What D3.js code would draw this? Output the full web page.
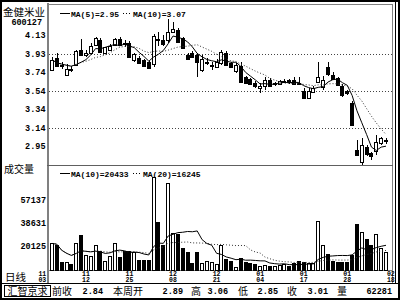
<!DOCTYPE html>
<html lang="zh">
<head>
<meta charset="UTF-8">
<title>金健米业 日线</title>
<script src="https://d3js.org/d3.v7.min.js"></script>
<style>
    body { margin: 0; background: #fff; }
    svg { display: block; }
    .num { font-family: "Liberation Mono", "DejaVu Sans Mono", monospace; font-weight: bold; fill: #000; }
    .cjk { font-family: "Noto Sans CJK SC", sans-serif; fill: #000; }
</style>
</head>
<body>
<script type="text/javascript">
    var svgWidth = 400;
    var svgHeight = 300;

    // daily bars, oldest first
    var opens  = [3.76, 3.89, 3.81, 3.71, 3.77, 3.81, 3.97, 3.92, 3.95, 4.03,
                  4.08, 3.94, 3.98, 4.03, 4.09, 4.05, 4.05, 3.87, 3.89, 3.87,
                  3.85, 3.82, 4.09, 4.08, 4.08, 4.17, 4.19, 4.10, 3.92, 3.94,
                  3.92, 3.76, 3.84, 3.80, 3.80, 3.83, 3.94, 3.83, 3.75, 3.80,
                  3.69, 3.66, 3.62, 3.57, 3.59, 3.65, 3.61, 3.61, 3.63, 3.65,
                  3.65, 3.62, 3.54, 3.47, 3.53, 3.63, 3.57, 3.79, 3.71, 3.67,
                  3.59, 3.53, 3.41, 2.90, 2.78, 2.94, 2.87, 2.89, 2.98, 3.00];
    var highs  = [3.90, 3.94, 3.85, 3.82, 3.80, 3.97, 4.09, 3.97, 4.05, 4.11,
                  4.10, 4.01, 4.04, 4.10, 4.11, 4.08, 4.07, 3.94, 3.91, 3.88,
                  3.86, 4.14, 4.16, 4.13, 4.30, 4.27, 4.21, 4.11, 3.94, 3.96,
                  3.94, 3.92, 3.89, 3.84, 3.88, 3.97, 3.96, 3.84, 3.83, 3.84,
                  3.70, 3.67, 3.64, 3.62, 3.68, 3.67, 3.63, 3.65, 3.66, 3.66,
                  3.68, 3.68, 3.57, 3.57, 3.59, 3.84, 3.70, 3.85, 3.74, 3.68,
                  3.61, 3.55, 3.43, 3.01, 3.03, 2.96, 2.88, 3.06, 3.04, 3.03];
    var lows   = [3.75, 3.79, 3.77, 3.70, 3.74, 3.80, 3.91, 3.90, 3.95, 4.02,
                  3.95, 3.93, 3.97, 4.02, 4.02, 4.01, 3.89, 3.85, 3.83, 3.80,
                  3.78, 3.79, 4.02, 4.02, 4.05, 4.15, 4.05, 3.98, 3.87, 3.89,
                  3.69, 3.74, 3.81, 3.76, 3.78, 3.81, 3.80, 3.78, 3.73, 3.62,
                  3.61, 3.60, 3.57, 3.51, 3.55, 3.58, 3.59, 3.60, 3.62, 3.61,
                  3.61, 3.60, 3.46, 3.45, 3.52, 3.62, 3.55, 3.70, 3.65, 3.59,
                  3.47, 3.49, 3.16, 2.84, 2.75, 2.84, 2.80, 2.85, 2.96, 2.97];
    var closes = [3.87, 3.80, 3.80, 3.77, 3.76, 3.96, 3.92, 3.94, 4.02, 4.10,
                  3.95, 4.00, 4.02, 4.09, 4.03, 4.04, 3.90, 3.93, 3.84, 3.81,
                  3.79, 4.12, 4.08, 4.04, 4.17, 4.20, 4.06, 3.99, 3.88, 3.90,
                  3.85, 3.88, 3.85, 3.81, 3.85, 3.95, 3.81, 3.79, 3.81, 3.63,
                  3.63, 3.61, 3.59, 3.59, 3.65, 3.59, 3.62, 3.64, 3.64, 3.63,
                  3.61, 3.61, 3.47, 3.54, 3.57, 3.68, 3.65, 3.71, 3.67, 3.60,
                  3.49, 3.51, 3.17, 2.85, 2.96, 2.86, 2.84, 2.99, 3.03, 3.01];
    var volumes = [22000, 20700, 6600, 6600, 5200, 22000, 28900, 12500, 11700, 20700,
                   16100, 7900, 11700, 22600, 11200, 16100, 16100, 14800, 8500, 8500,
                   8500, 76400, 39700, 20700, 71000, 30200, 29400, 18000, 14750, 6300,
                   15200, 5800, 7700, 7100, 5000, 20700, 9050, 7900, 2500, 10350,
                   7100, 6300, 5200, 3800, 4400, 3800, 3600, 4400, 5000, 3600,
                   6300, 7700, 6800, 6000, 6000, 40000, 20300, 13600, 7500, 6800,
                   7100, 6800, 12550, 37500, 31000, 26000, 21000, 29900, 18000, 14750];

    var priceTicks = [4.13, 3.93, 3.74, 3.54, 3.34, 3.14, 2.95];
    var priceGrid = [3.93, 3.54, 3.14];
    var volumeTicks = [57137, 38631, 20125];

    var dateMonths = ["11", "11", "11", "12", "12", "01", "01", "01", "02"];
    var dateDays = ["03", "12", "25", "08", "21", "04", "17", "28", "18"];
    var dateBars = [-2, 7, 16, 25, 34, 43, 52, 61, 70];

    var priceLegend = ["MA(5)=2.95", "MA(10)=3.07"];
    var volumeLegend = ["MA(10)=20433", "MA(20)=16245"];

    var statusNames = ["前收", "本周开", "高", "低", "收", "量"];
    var statusValues = ["2.84", "2.89", "3.06", "2.85", "3.01", "62281"];
    var statusNameX = [52, 113, 191, 238, 287, 337];
    var statusValueX = [103, 183, 228, 278, 328, 392];

    var movingAvg = function (arr, n) {
        return arr.map(function (d, i) {
            return d3.mean(arr.slice(Math.max(0, i - n + 1), i + 1));
        });
    };

    var xScale = d3.scaleLinear().domain([0, closes.length - 1]).range([52, 386]);
    var yPrice = d3.scaleLinear().domain([2.95, 4.13]).range([145.8, 35.3]);
    var yVol = d3.scaleLinear().domain([0, 57137]).range([270.4, 200.3]);
    var cx = function (i) { return Math.round(xScale(i)) + 0.5; };

    var svg = d3.select("body").append("svg")
        .attr("width", svgWidth)
        .attr("height", svgHeight);

    svg.append("rect").attr("width", svgWidth).attr("height", svgHeight).attr("fill", "#fff");

    // frame
    var frame = svg.append("g").attr("shape-rendering", "crispEdges").attr("fill", "none");
    frame.append("rect").attr("x", 1).attr("y", 1).attr("width", 398).attr("height", 298)
        .attr("stroke", "#000").attr("stroke-width", 2);
    frame.append("line").attr("x1", 47.5).attr("x2", 47.5).attr("y1", 3).attr("y2", 283)
        .attr("stroke", "#808080").attr("stroke-width", 2);
    frame.append("line").attr("x1", 47).attr("x2", 393).attr("y1", 4.5).attr("y2", 4.5)
        .attr("stroke", "#808080");
    frame.append("line").attr("x1", 392.5).attr("x2", 392.5).attr("y1", 4).attr("y2", 283)
        .attr("stroke", "#808080");
    frame.append("line").attr("x1", 395.5).attr("x2", 395.5).attr("y1", 2).attr("y2", 283)
        .attr("stroke", "#000");
    frame.append("line").attr("x1", 47).attr("x2", 393).attr("y1", 165.5).attr("y2", 165.5)
        .attr("stroke", "#606060");
    frame.append("line").attr("x1", 47).attr("x2", 393).attr("y1", 270.5).attr("y2", 270.5)
        .attr("stroke", "#808080");
    frame.append("line").attr("x1", 2).attr("x2", 398).attr("y1", 283.5).attr("y2", 283.5)
        .attr("stroke", "#000");
    frame.append("rect").attr("x", 4.5).attr("y", 285.5).attr("width", 46).attr("height", 11)
        .attr("stroke", "#000");

    // price grid
    svg.append("g").selectAll("line")
        .data(priceGrid).enter().append("line")
        .attr("x1", 49).attr("x2", 392)
        .attr("y1", function (d) { return Math.round(yPrice(d)) + 0.5; })
        .attr("y2", function (d) { return Math.round(yPrice(d)) + 0.5; })
        .attr("stroke", "#444").attr("stroke-dasharray", "1,2");

    // price axis labels
    svg.append("g").selectAll("text")
        .data(priceTicks).enter().append("text")
        .attr("class", "num")
        .attr("x", 45.5)
        .attr("y", function (d) { return yPrice(d) + 3; })
        .attr("text-anchor", "end")
        .attr("font-size", "8.5px")
        .text(function (d) { return d.toFixed(2); });

    svg.append("text").attr("class", "cjk").attr("x", 3).attr("y", 15.5)
        .attr("font-size", "10.5px").text("金健米业");
    svg.append("text").attr("class", "num").attr("x", 42).attr("y", 25)
        .attr("text-anchor", "end").attr("font-size", "8.5px").text("600127");

    // candles
    var bars = d3.range(closes.length);
    var candles = svg.append("g").attr("shape-rendering", "crispEdges");
    candles.selectAll("line")
        .data(bars).enter().append("line")
        .attr("x1", cx).attr("x2", cx)
        .attr("y1", function (i) { return yPrice(highs[i]); })
        .attr("y2", function (i) { return yPrice(lows[i]); })
        .attr("stroke", "#000");
    candles.selectAll("rect")
        .data(bars).enter().append("rect")
        .attr("x", function (i) { return cx(i) - 2; })
        .attr("width", 3)
        .attr("y", function (i) { return Math.round(yPrice(Math.max(opens[i], closes[i]))) + 0.5; })
        .attr("height", function (i) {
            return Math.max(1, Math.round(yPrice(Math.min(opens[i], closes[i])) - yPrice(Math.max(opens[i], closes[i]))));
        })
        .attr("fill", function (i) { return closes[i] >= opens[i] ? "#fff" : "#000"; })
        .attr("stroke", "#000");

    // price moving averages
    var ma5 = movingAvg(closes, 5);
    var ma10 = movingAvg(closes, 10);
    var priceLine = d3.line()
        .x(function (d, i) { return xScale(i); })
        .y(function (d) { return yPrice(d); });
    svg.append("path").attr("d", priceLine(ma10))
        .attr("fill", "none").attr("stroke", "#333").attr("stroke-dasharray", "1,2");
    svg.append("path").attr("d", priceLine(ma5))
        .attr("fill", "none").attr("stroke", "#000");

    // legends
    var drawLegend = function (labels, y, dotX, textX) {
        svg.append("line").attr("x1", 60).attr("x2", 70).attr("y1", y).attr("y2", y)
            .attr("stroke", "#000");
        svg.append("text").attr("class", "num").attr("x", 71).attr("y", y + 3)
            .attr("font-size", "8px").text(labels[0]);
        svg.append("line").attr("x1", dotX).attr("x2", dotX + 9).attr("y1", y).attr("y2", y)
            .attr("stroke", "#000").attr("stroke-dasharray", "1,2");
        svg.append("text").attr("class", "num").attr("x", textX).attr("y", y + 3)
            .attr("font-size", "8px").text(labels[1]);
    };
    drawLegend(priceLegend, 13.5, 123, 133);
    drawLegend(volumeLegend, 173.5, 133, 143);

    // volume
    svg.append("text").attr("class", "cjk").attr("x", 4).attr("y", 173)
        .attr("font-size", "10px").text("成交量");
    svg.append("g").selectAll("text")
        .data(volumeTicks).enter().append("text")
        .attr("class", "num")
        .attr("x", 46)
        .attr("y", function (d) { return yVol(d) + 3; })
        .attr("text-anchor", "end")
        .attr("font-size", "8.5px")
        .text(function (d) { return d; });

    svg.append("g").attr("shape-rendering", "crispEdges")
        .selectAll("rect")
        .data(bars).enter().append("rect")
        .attr("x", function (i) { return cx(i) - 2; })
        .attr("width", 3)
        .attr("y", function (i) { return Math.round(yVol(volumes[i])) + 0.5; })
        .attr("height", function (i) { return Math.round(yVol(0)) - Math.round(yVol(volumes[i])); })
        .attr("fill", function (i) { return closes[i] >= opens[i] ? "#fff" : "#000"; })
        .attr("stroke", "#000");

    var volLine = d3.line()
        .x(function (d, i) { return xScale(i); })
        .y(function (d) { return yVol(d); });
    svg.append("path").attr("d", volLine(movingAvg(volumes, 20)))
        .attr("fill", "none").attr("stroke", "#333").attr("stroke-dasharray", "1,2");
    svg.append("path").attr("d", volLine(movingAvg(volumes, 10)))
        .attr("fill", "none").attr("stroke", "#000");

    // date axis
    svg.append("text").attr("class", "cjk").attr("x", 5).attr("y", 281)
        .attr("font-size", "10.5px").text("日线");
    var dates = svg.append("g").selectAll("g")
        .data(dateBars).enter().append("g")
        .attr("transform", function (d) { return "translate(" + xScale(d) + ",0)"; });
    dates.append("text").attr("class", "num").attr("y", 275.8)
        .attr("text-anchor", "middle").attr("font-size", "6.5px")
        .text(function (d, i) { return dateMonths[i]; });
    dates.append("text").attr("class", "num").attr("y", 281.5)
        .attr("text-anchor", "middle").attr("font-size", "6.5px")
        .text(function (d, i) { return dateDays[i]; });

    // status bar
    svg.append("text").attr("class", "cjk").attr("x", 27.5).attr("y", 294.5)
        .attr("text-anchor", "middle").attr("font-size", "10px").text("汇智京求");
    svg.append("g").selectAll("text")
        .data(statusNames).enter().append("text")
        .attr("class", "cjk")
        .attr("x", function (d, i) { return statusNameX[i]; })
        .attr("y", 294.5)
        .attr("font-size", "10px")
        .text(function (d) { return d; });
    svg.append("g").selectAll("text")
        .data(statusValues).enter().append("text")
        .attr("class", "num")
        .attr("x", function (d, i) { return statusValueX[i]; })
        .attr("y", 293.5)
        .attr("text-anchor", "end")
        .attr("font-size", "8.5px")
        .text(function (d) { return d; });
</script>
</body>
</html>
